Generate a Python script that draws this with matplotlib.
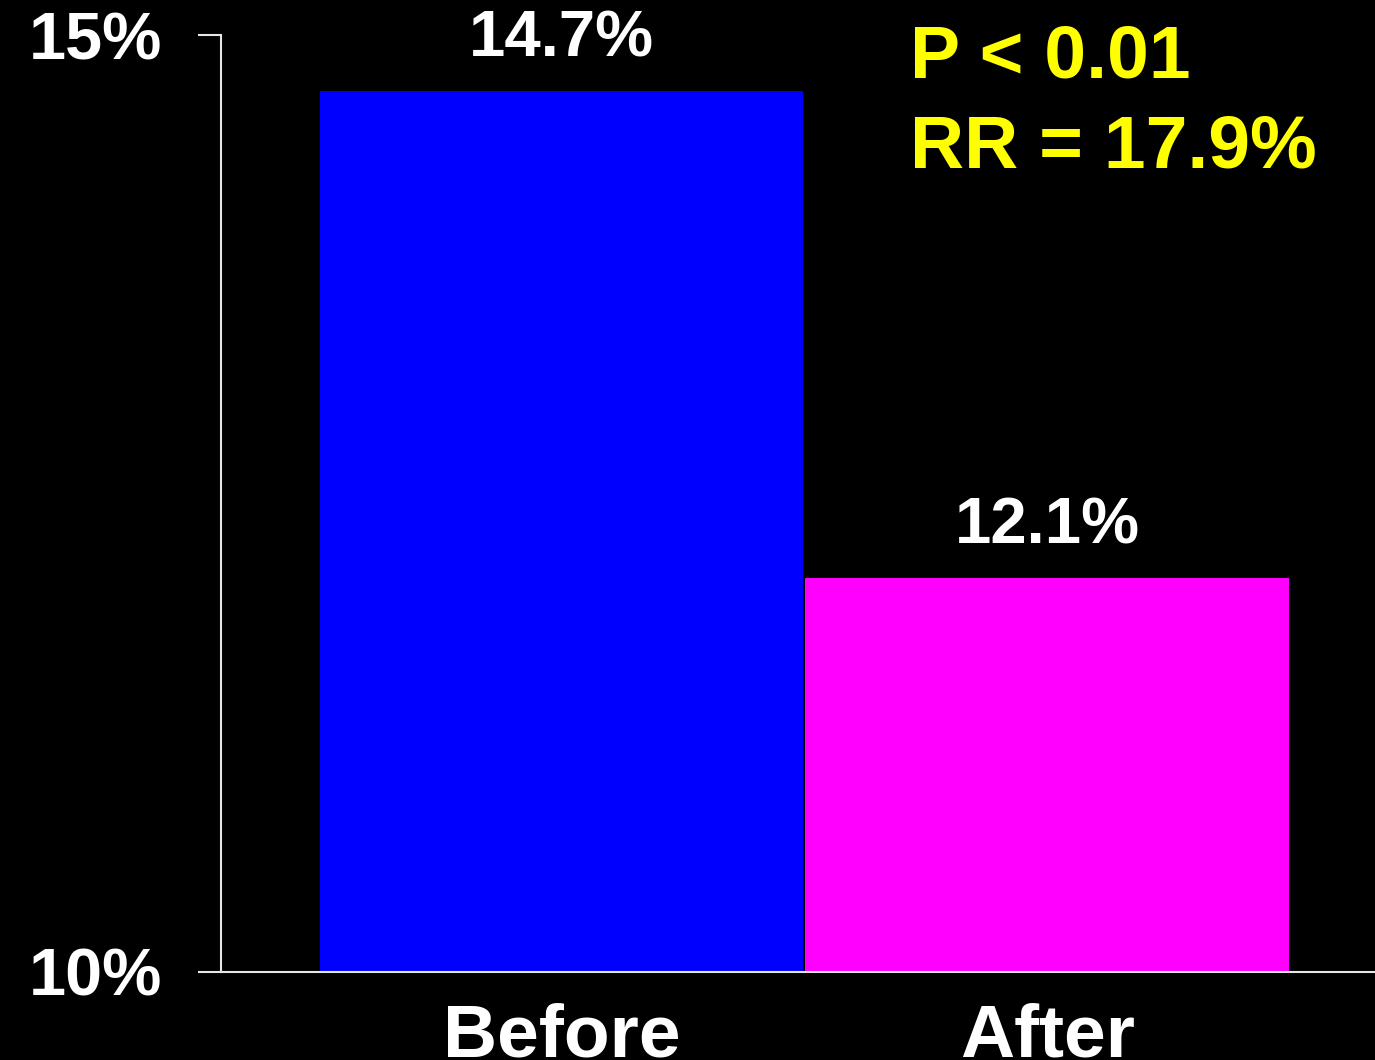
import matplotlib
matplotlib.use('Agg')
import matplotlib.pyplot as plt

# data
groups = ['Before', 'After']
rates = [14.7, 12.1]
bar_colors = ['#0000FF', '#FF00FF']
y_ticks = [10, 15]
y_tick_labels = ['10%', '15%']
stats_lines = ['P < 0.01', 'RR = 17.9%']

plt.rcParams['font.family'] = ['Liberation Sans', 'DejaVu Sans']
plt.rcParams['font.weight'] = 'bold'

fig = plt.figure(figsize=(13.75, 10.6), dpi=100, facecolor='black')
ax = fig.add_axes([221 / 1375, 1 - 971.5 / 1060, 1 - 221 / 1375, (971.5 - 35) / 1060])
ax.set_facecolor('black')

x = range(len(groups))
bars = ax.bar(x, rates, width=0.996, bottom=0, color=bar_colors, edgecolor='none')

ax.set_ylim(10, 15)
ax.set_xlim(-0.7016, 1.675)

# value labels above the bars
for xi, v in zip(x, rates):
    ax.annotate(f'{v}%', xy=(xi, v), xytext=(0, 25), textcoords='offset points',
                ha='center', va='baseline', color='white', fontsize=47, fontweight='bold')

# axes styling
for side in ['top', 'right']:
    ax.spines[side].set_visible(False)
for side in ['left', 'bottom']:
    ax.spines[side].set_color('#E6E6E6')
    ax.spines[side].set_linewidth(1.5)

ax.set_yticks(y_ticks)
ax.set_yticklabels(y_tick_labels)
ax.tick_params(axis='y', direction='out', length=16.5, width=1.5, color='#E6E6E6',
               pad=26, labelcolor='white', labelsize=48)
ax.set_xticks(list(x))
ax.set_xticklabels(groups)
ax.tick_params(axis='x', length=0, pad=22, labelcolor='white', labelsize=54)
for lbl in ax.get_xticklabels() + ax.get_yticklabels():
    lbl.set_fontweight('bold')

# statistics text, one line each
for line, base_y in zip(stats_lines, [77, 167]):
    fig.text(910 / 1375, 1 - base_y / 1060, line, color='#FFFF00', fontsize=54,
             fontweight='bold', ha='left', va='baseline')

fig.savefig('out.png', dpi=100, facecolor='black')
